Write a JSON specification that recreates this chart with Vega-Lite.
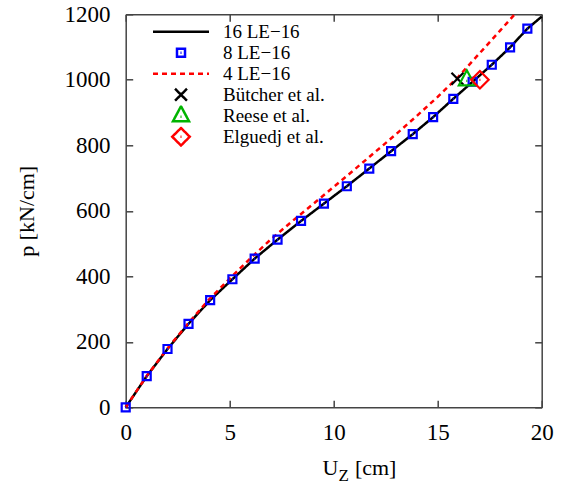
{
  "$schema": "https://vega.github.io/schema/vega-lite/v6.json",
  "width": 416,
  "height": 393,
  "autosize": {"type": "none"},
  "padding": {"left": 125.7, "top": 14.3, "right": 27.3, "bottom": 77.3},
  "background": "white",
  "config": {
    "view": {"stroke": null},
    "font": "Liberation Serif",
    "axis": {
      "domainColor": "#444444",
      "domainWidth": 1.5,
      "tickColor": "#444444",
      "tickWidth": 1.5,
      "tickSize": -7,
      "labelFont": "Liberation Serif",
      "labelFontSize": 23,
      "labelColor": "black",
      "titleFont": "Liberation Serif",
      "titleFontSize": 22,
      "titleFontWeight": "normal",
      "titleColor": "black",
      "grid": false,
      "labelFlush": false,
      "labelOverlap": false
    },
    "legend": {
      "orient": "none",
      "legendX": 27.3,
      "legendY": 7.2,
      "padding": 0,
      "symbolSize": 3136,
      "symbolStrokeWidth": 2.5,
      "labelFont": "Liberation Serif",
      "labelFontSize": 19,
      "labelColor": "black",
      "labelOffset": 14,
      "rowPadding": 0,
      "clipHeight": 20.5,
      "labelLimit": 300
    }
  },
  "datasets": {
    "lines": [
      {"series": "16 LE−16", "u": 0, "p": 0},
      {"series": "16 LE−16", "u": 1.01, "p": 95},
      {"series": "16 LE−16", "u": 2.01, "p": 178},
      {"series": "16 LE−16", "u": 3.02, "p": 255},
      {"series": "16 LE−16", "u": 4.06, "p": 327},
      {"series": "16 LE−16", "u": 5.13, "p": 391},
      {"series": "16 LE−16", "u": 6.2, "p": 454},
      {"series": "16 LE−16", "u": 7.3, "p": 512},
      {"series": "16 LE−16", "u": 8.43, "p": 569},
      {"series": "16 LE−16", "u": 9.53, "p": 622},
      {"series": "16 LE−16", "u": 10.63, "p": 675},
      {"series": "16 LE−16", "u": 11.71, "p": 729},
      {"series": "16 LE−16", "u": 12.76, "p": 782},
      {"series": "16 LE−16", "u": 13.8, "p": 834},
      {"series": "16 LE−16", "u": 14.78, "p": 886},
      {"series": "16 LE−16", "u": 15.75, "p": 942},
      {"series": "16 LE−16", "u": 16.68, "p": 994},
      {"series": "16 LE−16", "u": 17.6, "p": 1046},
      {"series": "16 LE−16", "u": 18.48, "p": 1099},
      {"series": "16 LE−16", "u": 19.31, "p": 1156},
      {"series": "16 LE−16", "u": 20, "p": 1193},
      {"series": "4 LE−16", "u": 0, "p": 0},
      {"series": "4 LE−16", "u": 1, "p": 95},
      {"series": "4 LE−16", "u": 2, "p": 179},
      {"series": "4 LE−16", "u": 3, "p": 256},
      {"series": "4 LE−16", "u": 4, "p": 329},
      {"series": "4 LE−16", "u": 5, "p": 393},
      {"series": "4 LE−16", "u": 6, "p": 455},
      {"series": "4 LE−16", "u": 7, "p": 514},
      {"series": "4 LE−16", "u": 8, "p": 568},
      {"series": "4 LE−16", "u": 9, "p": 620},
      {"series": "4 LE−16", "u": 10, "p": 673},
      {"series": "4 LE−16", "u": 11, "p": 726},
      {"series": "4 LE−16", "u": 12, "p": 780},
      {"series": "4 LE−16", "u": 13, "p": 834},
      {"series": "4 LE−16", "u": 14, "p": 890},
      {"series": "4 LE−16", "u": 15, "p": 948},
      {"series": "4 LE−16", "u": 16, "p": 1010},
      {"series": "4 LE−16", "u": 17, "p": 1080},
      {"series": "4 LE−16", "u": 18, "p": 1150},
      {"series": "4 LE−16", "u": 18.7, "p": 1200}
    ],
    "points": [
      {"series": "8 LE−16", "u": 0, "p": 0},
      {"series": "8 LE−16", "u": 1.01, "p": 95},
      {"series": "8 LE−16", "u": 2.01, "p": 178},
      {"series": "8 LE−16", "u": 3.02, "p": 255},
      {"series": "8 LE−16", "u": 4.06, "p": 327},
      {"series": "8 LE−16", "u": 5.13, "p": 391},
      {"series": "8 LE−16", "u": 6.2, "p": 454},
      {"series": "8 LE−16", "u": 7.3, "p": 512},
      {"series": "8 LE−16", "u": 8.43, "p": 569},
      {"series": "8 LE−16", "u": 9.53, "p": 622},
      {"series": "8 LE−16", "u": 10.63, "p": 675},
      {"series": "8 LE−16", "u": 11.71, "p": 729},
      {"series": "8 LE−16", "u": 12.76, "p": 782},
      {"series": "8 LE−16", "u": 13.8, "p": 834},
      {"series": "8 LE−16", "u": 14.78, "p": 886},
      {"series": "8 LE−16", "u": 15.75, "p": 942},
      {"series": "8 LE−16", "u": 16.68, "p": 994},
      {"series": "8 LE−16", "u": 17.6, "p": 1046},
      {"series": "8 LE−16", "u": 18.48, "p": 1099},
      {"series": "8 LE−16", "u": 19.31, "p": 1156},
      {"series": "Bütcher et al.", "u": 15.95, "p": 1003},
      {"series": "Reese et al.", "u": 16.4, "p": 1000},
      {"series": "Elguedj et al.", "u": 17.03, "p": 1000}
    ]
  },
  "layer": [
    {
      "data": {"name": "lines"},
      "mark": {"type": "line", "strokeWidth": 2.5},
      "encoding": {
        "x": {
          "field": "u", "type": "quantitative",
          "scale": {"domain": [0, 20], "nice": false, "zero": false},
          "axis": {
            "orient": "bottom", "values": [0, 5, 10, 15, 20], "labelPadding": 21.6, "format": "d",
            "title": "U\u00a0\u00a0\u00a0[cm]", "titleX": 233.3, "titleY": 67, "titleBaseline": "alphabetic"
          }
        },
        "y": {
          "field": "p", "type": "quantitative",
          "scale": {"domain": [0, 1200], "nice": false},
          "axis": {
            "orient": "left", "values": [0, 200, 400, 600, 800, 1000, 1200], "labelPadding": 22.7, "format": "d",
            "title": "p [kN/cm]", "titleX": -92.7, "titleY": 196.5, "titleAngle": -90,
            "titleBaseline": "alphabetic", "titleAlign": "center"
          }
        },
        "color": {
          "field": "series", "type": "nominal",
          "scale": {
            "domain": ["16 LE−16", "8 LE−16", "4 LE−16", "Bütcher et al.", "Reese et al.", "Elguedj et al."],
            "range": ["#000000", "#0000ff", "#ff0000", "#000000", "#00b400", "#ff0000"]
          },
          "legend": {
            "title": null, "labelFont": "Liberation Serif", "labelFontSize": 19,
            "encode": {
              "symbols": {"update": {"x": {"value": 28}, "size": {"value": 3136}, "strokeWidth": {"value": 2.5}}},
              "labels": {"update": {"x": {"value": 70}}}
            }
          }
        },
        "strokeDash": {
          "field": "series", "type": "nominal",
          "scale": {
            "domain": ["16 LE−16", "8 LE−16", "4 LE−16", "Bütcher et al.", "Reese et al.", "Elguedj et al."],
            "range": [[1, 0], [1, 0], [5, 4], [1, 0], [1, 0], [1, 0]]
          },
          "legend": {
            "title": null, "labelFont": "Liberation Serif", "labelFontSize": 19,
            "encode": {
              "symbols": {"update": {"x": {"value": 28}, "size": {"value": 3136}, "strokeWidth": {"value": 2.5}}},
              "labels": {"update": {"x": {"value": 70}}}
            }
          }
        }
      }
    },
    {
      "data": {"name": "points"},
      "mark": {"type": "point", "filled": false, "size": 3136, "strokeWidth": 2.2, "opacity": 1},
      "encoding": {
        "x": {
          "field": "u", "type": "quantitative",
          "scale": {"domain": [0, 20], "nice": false, "zero": false},
          "axis": {
            "orient": "top", "values": [0, 5, 10, 15, 20], "labels": false,
            "title": "Z", "titleFontSize": 17, "titleX": 217.6, "titleY": 466,
            "titleBaseline": "alphabetic", "titleAlign": "center", "titleAngle": 0
          }
        },
        "y": {
          "field": "p", "type": "quantitative",
          "scale": {"domain": [0, 1200], "nice": false},
          "axis": {"orient": "right", "values": [0, 200, 400, 600, 800, 1000, 1200], "labels": false, "title": null}
        },
        "color": {
          "field": "series", "type": "nominal",
          "scale": {
            "domain": ["16 LE−16", "8 LE−16", "4 LE−16", "Bütcher et al.", "Reese et al.", "Elguedj et al."],
            "range": ["#000000", "#0000ff", "#ff0000", "#000000", "#00b400", "#ff0000"]
          },
          "legend": {
            "title": null, "labelFont": "Liberation Serif", "labelFontSize": 19,
            "encode": {
              "symbols": {"update": {"x": {"value": 28}, "size": {"value": 3136}, "strokeWidth": {"value": 2.5}}},
              "labels": {"update": {"x": {"value": 70}}}
            }
          }
        },
        "shape": {
          "field": "series", "type": "nominal",
          "scale": {
            "domain": ["16 LE−16", "8 LE−16", "4 LE−16", "Bütcher et al.", "Reese et al.", "Elguedj et al."],
            "range": [
              "M-1,0L1,0",
              "M-0.143,-0.143L0.143,-0.143L0.143,0.143L-0.143,0.143Z M-0.018,0L0.018,0",
              "M-1,0L1,0",
              "M-0.214,-0.214L0.214,0.214M0.214,-0.214L-0.214,0.214",
              "M0,-0.339L0.286,0.196L-0.286,0.196Z M-0.018,0.036L0.018,0.036",
              "M0,-0.3125L0.3125,0L0,0.3125L-0.3125,0Z M-0.018,0L0.018,0"
            ]
          },
          "legend": {
            "title": null, "labelFont": "Liberation Serif", "labelFontSize": 19,
            "encode": {
              "symbols": {"update": {"x": {"value": 28}, "size": {"value": 3136}, "strokeWidth": {"value": 2.5}}},
              "labels": {"update": {"x": {"value": 70}}}
            }
          }
        }
      }
    }
  ],
  "resolve": {"axis": {"x": "independent", "y": "independent"}}
}
